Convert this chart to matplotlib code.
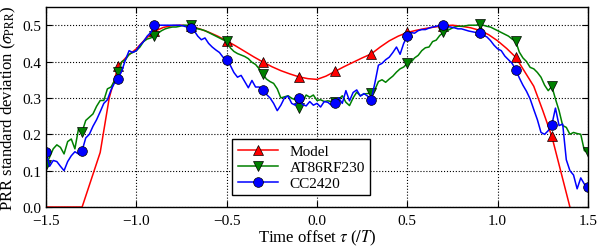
import numpy as np
import matplotlib
matplotlib.use("Agg")
import matplotlib.pyplot as plt

plt.rcParams['font.family'] = ['Liberation Serif', 'DejaVu Serif']
plt.rcParams['mathtext.fontset'] = 'stix'

# model curve, 0.05 steps from -1.5 to 1.5
model_x = np.round(np.arange(-1.5, 1.5001, 0.05), 3)
model_y = [0.0, 0.0, 0.0, 0.0, 0.0, 0.075, 0.15, 0.30, 0.388, 0.415,
           0.435, 0.462, 0.483, 0.494, 0.499, 0.500, 0.497, 0.490, 0.481, 0.470,
           0.457, 0.443, 0.428, 0.413, 0.399, 0.386, 0.375, 0.366, 0.358, 0.353,
           0.351, 0.360, 0.373, 0.386, 0.398, 0.410, 0.421, 0.440, 0.457, 0.470,
           0.480, 0.486, 0.491, 0.495, 0.498, 0.500, 0.497, 0.493, 0.486, 0.474,
           0.457, 0.436, 0.412, 0.372, 0.332, 0.265, 0.194, 0.097, 0.0, -0.1,
           -0.2]

# measurements, 0.02 steps from -1.5 to 1.5
meas_x = np.round(np.arange(-1.5, 1.5001, 0.02), 3)
at86 = [0.116, 0.137, 0.160, 0.171, 0.164, 0.146, 0.180, 0.187, 0.160, 0.215,
        0.207, 0.238, 0.247, 0.256, 0.277, 0.293, 0.293, 0.325, 0.330, 0.348,
        0.370, 0.400, 0.405, 0.420, 0.425, 0.430, 0.440, 0.455, 0.462, 0.465,
        0.470, 0.478, 0.485, 0.490, 0.493, 0.495, 0.495, 0.497, 0.500, 0.500,
        0.500, 0.495, 0.490, 0.488, 0.485, 0.480, 0.475, 0.470, 0.465, 0.460,
        0.456, 0.438, 0.428, 0.422, 0.418, 0.414, 0.408, 0.398, 0.392, 0.380,
        0.366, 0.352, 0.345, 0.340, 0.325, 0.300, 0.303, 0.306, 0.299, 0.295,
        0.272, 0.290, 0.308, 0.302, 0.308, 0.293, 0.295, 0.290, 0.292, 0.290,
        0.288, 0.295, 0.306, 0.288, 0.279, 0.300, 0.316, 0.306, 0.311, 0.312,
        0.313, 0.322, 0.345, 0.350, 0.343, 0.352, 0.360, 0.371, 0.380, 0.385,
        0.395, 0.398, 0.410, 0.417, 0.430, 0.438, 0.440, 0.455, 0.459, 0.472,
        0.480, 0.485, 0.490, 0.495, 0.497, 0.497, 0.498, 0.500, 0.500, 0.500,
        0.502, 0.500, 0.497, 0.495, 0.490, 0.485, 0.480, 0.475, 0.470, 0.462,
        0.456, 0.426, 0.410, 0.400, 0.384, 0.380, 0.370, 0.357, 0.335, 0.320,
        0.332, 0.297, 0.265, 0.224, 0.219, 0.200, 0.205, 0.202, 0.200, 0.155,
        0.150]
cc2420 = [0.150, 0.112, 0.128, 0.125, 0.112, 0.100, 0.125, 0.141, 0.152, 0.146,
          0.155, 0.190, 0.200, 0.222, 0.240, 0.262, 0.285, 0.295, 0.322, 0.342,
          0.353, 0.375, 0.405, 0.430, 0.425, 0.430, 0.445, 0.455, 0.470, 0.480,
          0.500, 0.500, 0.500, 0.500, 0.500, 0.500, 0.500, 0.500, 0.498, 0.495,
          0.492, 0.485, 0.470, 0.460, 0.465, 0.450, 0.440, 0.432, 0.425, 0.412,
          0.405, 0.390, 0.370, 0.357, 0.362, 0.345, 0.328, 0.348, 0.330, 0.330,
          0.322, 0.310, 0.300, 0.285, 0.265, 0.280, 0.300, 0.305, 0.285, 0.280,
          0.300, 0.282, 0.278, 0.290, 0.280, 0.285, 0.275, 0.290, 0.288, 0.280,
          0.286, 0.300, 0.285, 0.320, 0.292, 0.315, 0.322, 0.305, 0.312, 0.305,
          0.295, 0.340, 0.390, 0.395, 0.405, 0.412, 0.425, 0.440, 0.420, 0.450,
          0.470, 0.480, 0.478, 0.485, 0.488, 0.488, 0.492, 0.495, 0.497, 0.500,
          0.500, 0.496, 0.495, 0.493, 0.490, 0.490, 0.487, 0.484, 0.482, 0.480,
          0.478, 0.472, 0.468, 0.458, 0.445, 0.435, 0.430, 0.415, 0.405, 0.395,
          0.378, 0.355, 0.335, 0.318, 0.297, 0.268, 0.240, 0.205, 0.200, 0.210,
          0.226, 0.272, 0.224, 0.228, 0.130, 0.100, 0.088, 0.050, 0.080, 0.063,
          0.055]

fig = plt.figure(figsize=(6.02, 2.51), dpi=100)
ax = fig.add_axes([0.0764, 0.1713, 0.9003, 0.7967])

mk = dict(markersize=7, markeredgecolor='black', markeredgewidth=0.5, linewidth=1.1)
ax.plot(model_x, model_y, color='red', marker='^', markevery=slice(8, None, 4),
        label='Model', **mk)
ax.plot(meas_x, at86, color='green', marker='v', markevery=10,
        label='AT86RF230', **mk)
ax.plot(meas_x, cc2420, color='blue', marker='o', markevery=10,
        label='CC2420', **mk)

ax.set_xlim(-1.5, 1.5)
ax.set_ylim(0, 0.55)
ax.set_xticks([-1.5, -1.0, -0.5, 0.0, 0.5, 1.0, 1.5])
ax.set_yticks([0.0, 0.1, 0.2, 0.3, 0.4, 0.5])
ax.grid(True, color='black', linestyle=':', linewidth=0.8)
ax.tick_params(direction='in', top=True, right=True, labelsize=11, length=4)
ax.tick_params(axis='x', pad=5)
for s in ax.spines.values():
    s.set_linewidth(1.0)

ax.set_xlabel(r'Time offset $\tau$ ($/T$)', fontsize=12, labelpad=0.5)
ax.set_ylabel(r'PRR standard deviation ($\sigma_{\mathrm{PRR}}$)', fontsize=12, labelpad=3)

leg = ax.legend(loc='lower left', bbox_to_anchor=(0.33, 0.02), fontsize=11,
                fancybox=False, framealpha=1, edgecolor='black',
                handlelength=2.6, borderpad=0.35, labelspacing=0.15, handletextpad=0.8)
leg.get_frame().set_linewidth(1.0)

plt.savefig('out.png', dpi=100)
plt.close()
